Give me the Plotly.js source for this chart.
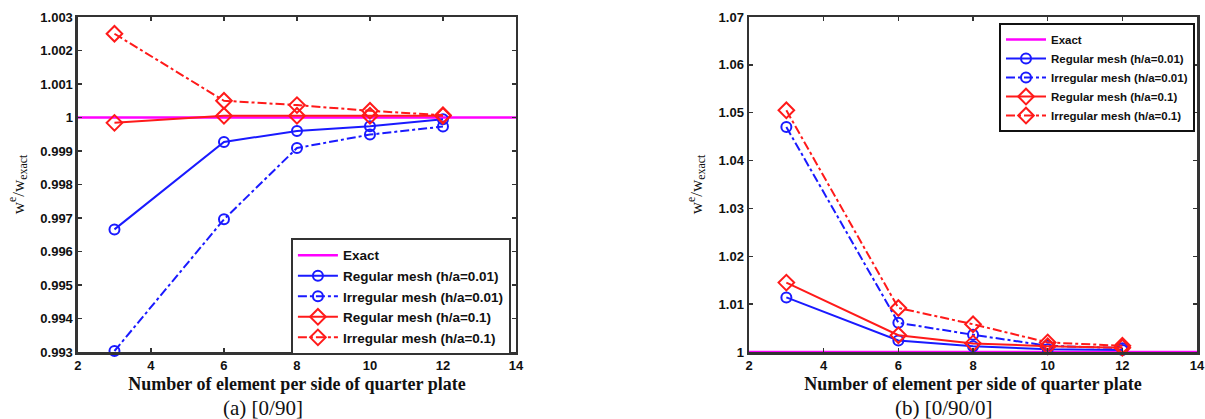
<!DOCTYPE html>
<html>
<head>
<meta charset="utf-8">
<script src="https://cdn.plot.ly/plotly-3.0.1.min.js"></script>
<style>html,body{margin:0;padding:0;background:#fff}#chart{width:1205px;height:419px}</style>
</head>
<body>
<div id="chart"></div>
<script>
// ---- data ----
const nElem = [3, 6, 8, 10, 12];
const exactX = [2, 14];
const exactY = [1, 1];
const seriesNames = ['Exact', 'Regular mesh (h/a=0.01)', 'Irregular mesh (h/a=0.01)', 'Regular mesh (h/a=0.1)', 'Irregular mesh (h/a=0.1)'];
// (a) [0/90]
const aRegular001   = [0.99666, 0.99927, 0.99960, 0.99974, 0.99995];
const aIrregular001 = [0.99303, 0.99696, 0.99909, 0.99949, 0.99973];
const aRegular01    = [0.99984, 1.00005, 1.00005, 1.00005, 1.00005];
const aIrregular01  = [1.00250, 1.00050, 1.00037, 1.00020, 1.00007];
// (b) [0/90/0]
const bRegular001   = [1.0114, 1.0024, 1.0012, 1.0006, 1.0004];
const bIrregular001 = [1.0470, 1.0061, 1.0036, 1.0013, 1.0008];
const bRegular01    = [1.0145, 1.0035, 1.0018, 1.0012, 1.0009];
const bIrregular01  = [1.0505, 1.0092, 1.0058, 1.0020, 1.0013];
const xTicks = [2, 4, 6, 8, 10, 12, 14];
const captions = ['(a) [0/90]', '(b) [0/90/0]'];
const xTitle = 'Number of element per side of quarter plate';
const yTitle = 'w<sup>e</sup>/w<sub>exact</sub>';

const BLUE = '#1a1aff', RED = '#ff1a1a', MAG = '#ff00ff';

function makeTraces(xa, ya, leg, reg001, irr001, reg01, irr01) {
  const common = {mode: 'lines+markers', x: nElem, xaxis: xa, yaxis: ya, legend: leg, cliponaxis: false};
  return [
    {type: 'scatter', mode: 'lines', x: exactX, y: exactY, xaxis: xa, yaxis: ya, legend: leg, name: seriesNames[0],
     line: {color: MAG, width: 2.5}, cliponaxis: false},
    Object.assign({}, common, {type: 'scatter', y: reg001, name: seriesNames[1],
     line: {color: BLUE, width: 2}, marker: {symbol: 'circle-open', size: 10, color: BLUE, line: {width: 2, color: BLUE}}}),
    Object.assign({}, common, {type: 'scatter', y: irr001, name: seriesNames[2],
     line: {color: BLUE, width: 2, dash: 'dashdot'}, marker: {symbol: 'circle-open', size: 10, color: BLUE, line: {width: 2, color: BLUE}}}),
    Object.assign({}, common, {type: 'scatter', y: reg01, name: seriesNames[3],
     line: {color: RED, width: 2}, marker: {symbol: 'diamond-open', size: 12, color: RED, line: {width: 2, color: RED}}}),
    Object.assign({}, common, {type: 'scatter', y: irr01, name: seriesNames[4],
     line: {color: RED, width: 2, dash: 'dashdot'}, marker: {symbol: 'diamond-open', size: 12, color: RED, line: {width: 2, color: RED}}})
  ];
}

const data = [].concat(
  makeTraces('x', 'y', 'legend', aRegular001, aIrregular001, aRegular01, aIrregular01),
  makeTraces('x2', 'y2', 'legend2', bRegular001, bIrregular001, bRegular01, bIrregular01)
);

const tickFont = {family: 'Liberation Sans, Arial, sans-serif', size: 13, color: '#111', weight: 'bold'};
const xTitleFont = {family: 'Liberation Serif, Times New Roman, serif', size: 18, color: '#111', weight: 'bold'};
const yTitleFont = {family: 'Liberation Serif, Times New Roman, serif', size: 17, color: '#111'};

function xAxis(domain, anchor) {
  return {domain: domain, anchor: anchor, range: [2, 14], tickvals: xTicks, ticks: 'inside', ticklen: 4, tickwidth: 1.5,
    tickcolor: '#333', showline: true, linecolor: '#333', linewidth: 2.5, mirror: 'ticks', showgrid: false, zeroline: false,
    ticklabeloverflow: 'allow',
    tickfont: tickFont, title: {text: xTitle, font: xTitleFont, standoff: 6}, automargin: false};
}
function yAxis(domain, anchor, range, dtick, fmt) {
  return {domain: domain, anchor: anchor, range: range, dtick: dtick, tick0: range[0], tickformat: fmt, ticks: 'inside', ticklen: 4, tickwidth: 1.5,
    tickcolor: '#333', showline: true, linecolor: '#333', linewidth: 2.5, mirror: 'ticks', showgrid: false, zeroline: false,
    ticklabeloverflow: 'allow',
    tickfont: tickFont, title: {text: yTitle, font: yTitleFont, standoff: 12}, automargin: false};
}

const legendFont = {family: 'Liberation Sans, Arial, sans-serif', size: 13.5, color: '#111', weight: 'bold'};
const layout = {
  width: 1205, height: 419,
  margin: {l: 0, r: 0, t: 0, b: 0},
  paper_bgcolor: '#fff', plot_bgcolor: '#fff',
  showlegend: true,
  xaxis: xAxis([0.0647, 0.4282], 'y'),
  yaxis: yAxis([0.1599, 0.9594], 'x', [0.993, 1.003], 0.001, ''),
  xaxis2: xAxis([0.6216, 0.9934], 'y2'),
  yaxis2: yAxis([0.1599, 0.9594], 'x2', [1, 1.07], 0.01, ''),
  legend: {x: 0.424, xanchor: 'right', y: 0.153, yanchor: 'bottom', bgcolor: '#fff', bordercolor: '#333', borderwidth: 2,
    font: legendFont, itemwidth: 40, tracegroupgap: 0},
  legend2: {x: 0.9917, xanchor: 'right', y: 0.945, yanchor: 'top', bgcolor: '#fff', bordercolor: '#111', borderwidth: 2,
    font: Object.assign({}, legendFont, {size: 11.5}), itemwidth: 40, tracegroupgap: 0},
  annotations: [
    {text: captions[0], xref: 'paper', yref: 'paper', x: 263 / 1205, y: 11 / 419, xanchor: 'center', yanchor: 'middle', showarrow: false,
     font: {family: 'Liberation Serif, Times New Roman, serif', size: 21, color: '#111'}},
    {text: captions[1], xref: 'paper', yref: 'paper', x: 943 / 1205, y: 11 / 419, xanchor: 'center', yanchor: 'middle', showarrow: false,
     font: {family: 'Liberation Serif, Times New Roman, serif', size: 21, color: '#111'}}
  ]
};

Plotly.newPlot('chart', data, layout, {displayModeBar: false, staticPlot: true});
</script>
</body>
</html>
